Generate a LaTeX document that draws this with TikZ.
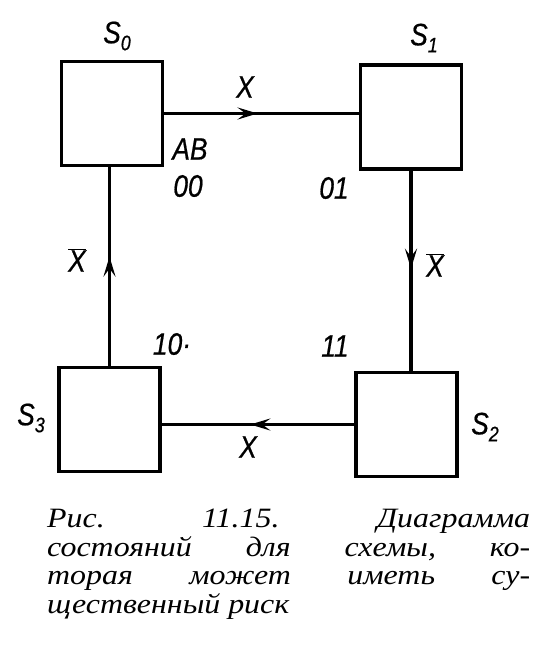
\documentclass[tikz,border=0pt]{standalone}
\usepackage{fontspec}
\setmainfont{Liberation Serif}
\newfontfamily\labfont[FakeStretch=0.85,FakeBold=0.6]{Liberation Sans}
\newfontfamily\capfont[FakeStretch=1.14]{Liberation Serif}
\usetikzlibrary{arrows.meta,decorations.markings}
\newcommand\olX{\ensuremath{\overline{\mbox{X}}}}
\newcommand\subs[1]{\lower7pt\hbox{\fontsize{21}{21}\selectfont #1}}
\tikzset{
  state/.style={draw, line width=3.8pt, minimum width=101pt, minimum height=104pt, inner sep=0pt},
  conn/.style={line width=3.2pt},
  midarr/.style={postaction={decorate}, decoration={markings, mark=at position #1 with {\arrow{Stealth[length=20pt,width=12pt,inset=8pt]}}}},
  lab/.style={font=\labfont\itshape\fontsize{31}{31}\selectfont, inner sep=0pt},
  captext/.style={font=\capfont\itshape\fontsize{28}{28}\selectfont, anchor=base west, inner sep=0pt},
}
\begin{document}
\begin{tikzpicture}[x=1pt,y=-1pt]
\useasboundingbox (0,0) rectangle (556,665);
\node[state] (S0) at (112,113.5) {};
\node[state] (S1) at (411,117) {};
\node[state] (S2) at (406.5,424.5) {};
\node[state] (S3) at (109.5,419.5) {};

\draw[conn,midarr=0.48] (S0.east) -- (S0.east -| S1.west);
\draw[conn,midarr=0.49] (S1.south) -- (S1.south |- S2.north);
\draw[conn,midarr=0.54] (S2.west) -- (S2.west -| S3.east);
\draw[conn,midarr=0.55] (S3.north) -- (S3.north |- S0.south);

\node[lab] (n0) at (117,36) {S\subs{0}};
\node[lab] (n1) at (424,38) {S\subs{1}};
\node[lab] (n2) at (485,427) {S\subs{2}};
\node[lab] (n3) at (31,418) {S\subs{3}};

\node[lab] (x01) at (245,87) {X};
\node[lab] (x12) at (435,265) {\olX};
\node[lab] (x23) at (248,447) {X};
\node[lab] (x30) at (77,260) {\olX};

\node[lab] (ab) at (190,149) {AB};
\node[lab] (c0) at (188,186) {00};
\node[lab] (c1) at (334,188) {01};
\node[lab] (c2) at (335,346) {11};
\node[lab] (c3) at (172,344) {10·};

\node[captext] (l1) at (47,527) {\hbox to 483pt{Рис.\hfill 11.15.\hfill Диаграмма}};
\node[captext] (l2) at (47,556) {\hbox to 483pt{состояний\hfill для\hfill схемы,\hfill ко-}};
\node[captext] (l3) at (47,584) {\hbox to 483pt{торая\hfill может\hfill иметь\hfill су-}};
\node[captext] (l4) at (47,613) {щественный риск};
\end{tikzpicture}
\end{document}
